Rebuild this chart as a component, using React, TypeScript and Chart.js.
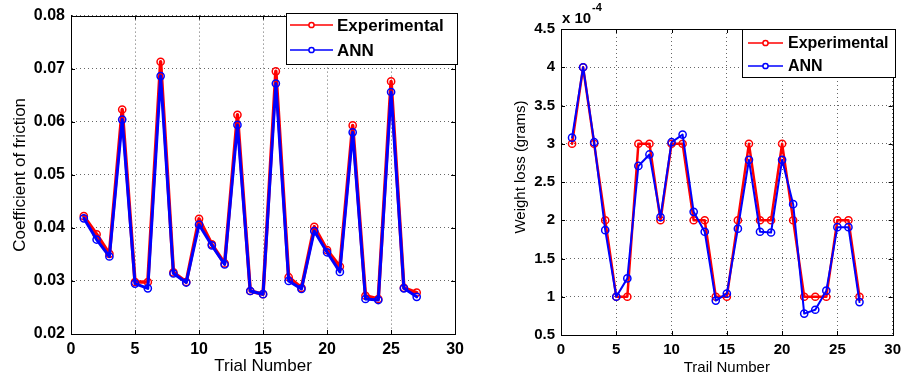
import React, { useEffect, useRef } from "react";
import { Chart, registerables } from "chart.js";

Chart.register(...registerables);

// ---------- data ----------
const trials = [1, 2, 3, 4, 5, 6, 7, 8, 9, 10, 11, 12, 13, 14, 15, 16, 17, 18, 19, 20, 21, 22, 23, 24, 25, 26, 27];

const cofExperimental = [
  0.0422, 0.0388, 0.0351, 0.0623, 0.0298, 0.0298, 0.0713, 0.0316, 0.0298, 0.0417,
  0.0369, 0.0333, 0.0613, 0.0281, 0.0275, 0.0695, 0.0307, 0.0287, 0.0402, 0.0358,
  0.0327, 0.0593, 0.0272, 0.0266, 0.0676, 0.0287, 0.0278,
];
const cofANN = [
  0.0418, 0.0378, 0.0346, 0.0604, 0.0295, 0.0286, 0.0686, 0.0314, 0.0297, 0.0406,
  0.0367, 0.0331, 0.0594, 0.0281, 0.0275, 0.0672, 0.0300, 0.0285, 0.0394, 0.0354,
  0.0317, 0.0580, 0.0266, 0.0264, 0.0656, 0.0286, 0.0270,
];

// weight loss in units of 1e-4 grams
const weightExperimentalE4 = [
  3.0, 4.0, 3.0, 2.0, 1.0, 1.0, 3.0, 3.0, 2.0, 3.0,
  3.0, 2.0, 2.0, 1.0, 1.0, 2.0, 3.0, 2.0, 2.0, 3.0,
  2.0, 1.0, 1.0, 1.0, 2.0, 2.0, 1.0,
];
const weightANNE4 = [
  3.08, 4.0, 3.02, 1.87, 1.0, 1.24, 2.71, 2.86, 2.04, 3.02,
  3.12, 2.11, 1.85, 0.95, 1.04, 1.89, 2.79, 1.85, 1.84, 2.79,
  2.21, 0.78, 0.83, 1.08, 1.91, 1.91, 0.93,
];

const seriesLabels = ["Experimental", "ANN"];
const seriesColors = ["#ff0000", "#0000ff"];

const FONT = '"Liberation Sans", Arial, Helvetica, sans-serif';

type LegendSpec = {
  x0: number; y0: number; x1: number; y1: number;
  lineX0: number; lineX1: number; textX: number; rows: number[]; fontSize: number;
};

type PanelSpec = {
  exp: number[];
  ann: number[];
  xMin: number; xMax: number; xStep: number;
  yMin: number; yMax: number; yStep: number;
  yFormat: (v: number) => string;
  xTitle: string;
  yTitle: string | null;
  tickSize: number;
  titleSize: number;
  padding: { left: number; right: number; top: number; bottom: number };
  yAxisWidth: number;
  xAxisHeight: number;
  yTitlePad: number;
  xTitlePad: number;
  lineWidths: number[];
  legend: LegendSpec;
  extra?: (ctx: CanvasRenderingContext2D, chart: any) => void;
};

function makeConfig(spec: PanelSpec): any {
  const sets = [spec.exp, spec.ann];
  const datasets = sets.map((vals, i) => ({
    label: seriesLabels[i],
    data: trials.map((t, k) => ({ x: t, y: vals[k] })),
    order: i === 0 ? 1 : 0,
    borderColor: seriesColors[i],
    backgroundColor: "rgba(0,0,0,0)",
    borderWidth: spec.lineWidths[i],
    borderJoinStyle: "round",
    borderCapStyle: "round",
    pointRadius: 3.6,
    pointBorderWidth: 1.5,
    pointBackgroundColor: "rgba(0,0,0,0)",
    pointBorderColor: seriesColors[i],
    tension: 0,
    fill: false,
  }));

  const boxPlugin = {
    id: "boxAndLegend",
    afterDraw(chart: any) {
      const ctx: CanvasRenderingContext2D = chart.ctx;
      const a = chart.chartArea;
      ctx.save();
      ctx.strokeStyle = "#000";
      ctx.lineWidth = 1;
      ctx.strokeRect(Math.round(a.left) + 0.5, Math.round(a.top) + 0.5, Math.round(a.right - a.left), Math.round(a.bottom - a.top));
      const xs = chart.scales.x;
      const ys = chart.scales.y;
      ctx.beginPath();
      xs.ticks.forEach((t: any) => {
        const px = Math.round(xs.getPixelForValue(t.value)) + 0.5;
        ctx.moveTo(px, a.bottom); ctx.lineTo(px, a.bottom - 4);
        ctx.moveTo(px, a.top); ctx.lineTo(px, a.top + 4);
      });
      ys.ticks.forEach((t: any) => {
        const py = Math.round(ys.getPixelForValue(t.value)) + 0.5;
        ctx.moveTo(a.left, py); ctx.lineTo(a.left + 4, py);
        ctx.moveTo(a.right, py); ctx.lineTo(a.right - 4, py);
      });
      ctx.stroke();

      const L = spec.legend;
      ctx.fillStyle = "#fff";
      ctx.fillRect(L.x0, L.y0, L.x1 - L.x0, L.y1 - L.y0);
      ctx.strokeStyle = "#000";
      ctx.lineWidth = 1;
      ctx.strokeRect(L.x0 + 0.5, L.y0 + 0.5, L.x1 - L.x0, L.y1 - L.y0);
      const dsList = [...chart.data.datasets].sort((p: any, q: any) => q.order - p.order);
      dsList.forEach((ds: any, i: number) => {
        const y = L.rows[i];
        ctx.strokeStyle = ds.borderColor;
        ctx.lineWidth = 1.5;
        ctx.beginPath();
        ctx.moveTo(L.lineX0, y);
        ctx.lineTo(L.lineX1, y);
        ctx.stroke();
        ctx.beginPath();
        ctx.arc((L.lineX0 + L.lineX1) / 2, y, 2.6, 0, Math.PI * 2);
        ctx.fillStyle = "#fff";
        ctx.fill();
        ctx.stroke();
        ctx.fillStyle = "#000";
        ctx.font = `bold ${L.fontSize}px ${FONT}`;
        ctx.textAlign = "left";
        ctx.textBaseline = "middle";
        ctx.fillText(ds.label, L.textX, y + 1);
      });
      if (spec.extra) spec.extra(ctx, chart);
      ctx.restore();
    },
  };

  const gridColor = "rgba(0,0,0,0.6)";

  return {
    type: "line",
    data: { datasets },
    plugins: [boxPlugin],
    options: {
      animation: false,
      responsive: false,
      maintainAspectRatio: false,
      devicePixelRatio: 1,
      layout: { padding: spec.padding },
      plugins: { legend: { display: false }, tooltip: { enabled: false }, title: { display: false } },
      scales: {
        x: {
          type: "linear",
          min: spec.xMin,
          max: spec.xMax,
          afterFit: (s: any) => { s.height = spec.xAxisHeight; },
          ticks: {
            stepSize: spec.xStep,
            autoSkip: false,
            maxRotation: 0,
            padding: 6,
            color: "#000",
            font: { family: FONT, size: spec.tickSize, weight: "bold" },
            callback: (v: any) => String(v),
          },
          grid: { color: gridColor, lineWidth: 1, drawTicks: false },
          border: { display: true, color: "#000", width: 1, dash: [1, 3] },
          title: {
            display: true,
            text: spec.xTitle,
            color: "#000",
            font: { family: FONT, size: spec.titleSize },
            padding: { top: 0, bottom: spec.xTitlePad },
          },
        },
        y: {
          type: "linear",
          min: spec.yMin,
          max: spec.yMax,
          afterFit: (s: any) => { s.width = spec.yAxisWidth; },
          ticks: {
            stepSize: spec.yStep,
            autoSkip: false,
            padding: 6,
            color: "#000",
            font: { family: FONT, size: spec.tickSize, weight: "bold" },
            callback: (v: any) => spec.yFormat(Number(v)),
          },
          grid: { color: gridColor, lineWidth: 1, drawTicks: false },
          border: { display: true, color: "#000", width: 1, dash: [1, 3] },
          title: {
            display: spec.yTitle !== null,
            text: spec.yTitle || "",
            color: "#000",
            font: { family: FONT, size: spec.titleSize },
            padding: { top: spec.yTitlePad, bottom: 0 },
          },
        },
      },
    },
  };
}

function Panel({ spec, left, width }: { spec: PanelSpec; left: number; width: number }) {
  const ref = useRef<HTMLCanvasElement | null>(null);
  useEffect(() => {
    if (!ref.current) return;
    const chart = new Chart(ref.current, makeConfig(spec));
    return () => chart.destroy();
  }, [spec]);
  return (
    <canvas
      ref={ref}
      width={width}
      height={379}
      style={{ position: "absolute", left, top: 0, width, height: 379 }}
    />
  );
}

const leftSpec: PanelSpec = {
  exp: cofExperimental,
  ann: cofANN,
  xMin: 0, xMax: 30, xStep: 5,
  yMin: 0.02, yMax: 0.08, yStep: 0.01,
  yFormat: (v) => v.toFixed(2),
  xTitle: "Trial Number",
  yTitle: "Coefficient of friction",
  tickSize: 16,
  titleSize: 17,
  padding: { left: 0, right: 13, top: 13, bottom: 0 },
  yAxisWidth: 71,
  xAxisHeight: 45,
  yTitlePad: 10,
  xTitlePad: 2,
  lineWidths: [3.5, 3],
  legend: { x0: 286, y0: 13, x1: 457, y1: 64, lineX0: 290, lineX1: 333, textX: 337, rows: [25, 50], fontSize: 17 },
};

const rightSpec: PanelSpec = {
  exp: weightExperimentalE4,
  ann: weightANNE4,
  xMin: 0, xMax: 30, xStep: 5,
  yMin: 0.5, yMax: 4.5, yStep: 0.5,
  yFormat: (v) => String(Math.round(v * 10) / 10),
  xTitle: "Trail Number",
  yTitle: null,
  tickSize: 15,
  titleSize: 15,
  padding: { left: 0, right: 12, top: 29, bottom: 0 },
  yAxisWidth: 81,
  xAxisHeight: 44,
  yTitlePad: 0,
  xTitlePad: 2,
  lineWidths: [2.5, 2],
  legend: { x0: 262, y0: 29, x1: 415, y1: 77, lineX0: 268, lineX1: 303, textX: 308, rows: [43, 66], fontSize: 16 },
  extra: (ctx) => {
    ctx.save();
    ctx.translate(41, 167);
    ctx.rotate(-Math.PI / 2);
    ctx.fillStyle = "#000";
    ctx.font = `15px ${FONT}`;
    ctx.textAlign = "center";
    ctx.textBaseline = "middle";
    ctx.fillText("Weight loss (grams)", 0, 0);
    ctx.restore();
    ctx.fillStyle = "#000";
    ctx.textAlign = "left";
    ctx.textBaseline = "alphabetic";
    ctx.font = `bold 15px ${FONT}`;
    ctx.fillText("x 10", 82, 23);
    ctx.font = `bold 11px ${FONT}`;
    ctx.fillText("-4", 112, 11);
  },
};

export default function App() {
  return (
    <div style={{ position: "absolute", left: 0, top: 0, width: 907, height: 379, background: "#fff", overflow: "hidden" }}>
      <Panel spec={leftSpec} left={0} width={470} />
      <Panel spec={rightSpec} left={480} width={427} />
    </div>
  );
}
